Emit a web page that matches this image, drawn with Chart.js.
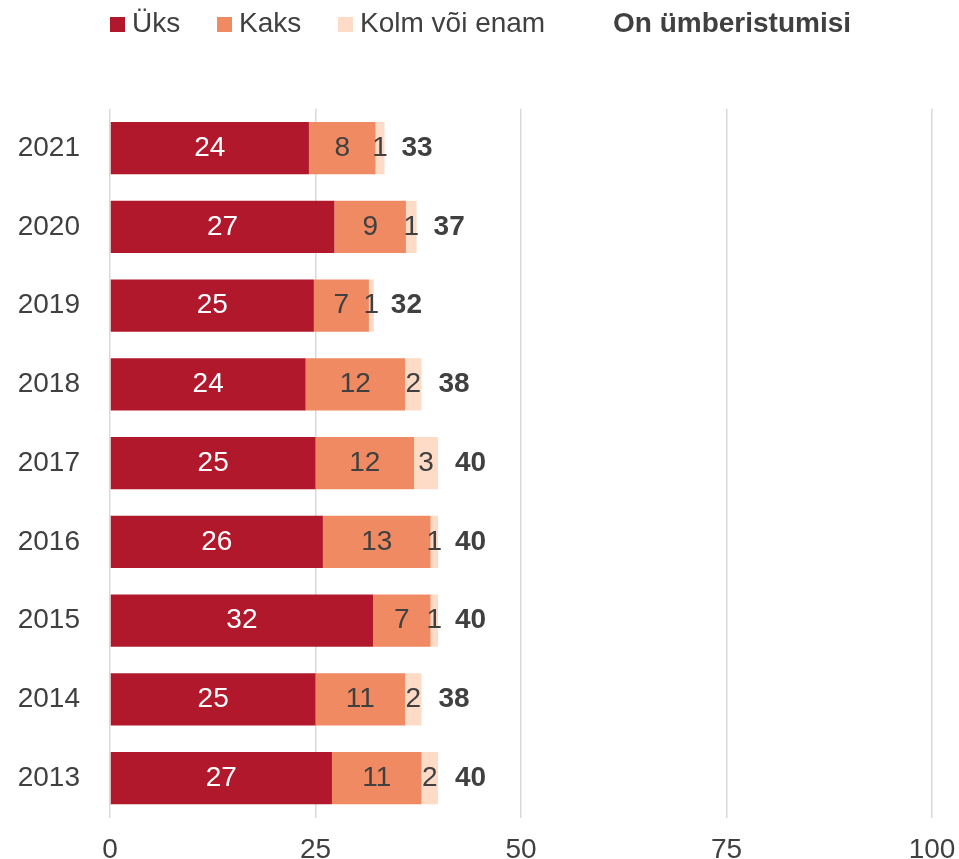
<!DOCTYPE html>
<html>
<head>
<meta charset="utf-8">
<script src="https://cdn.jsdelivr.net/npm/chart.js@4.4.1/dist/chart.umd.min.js"></script>
<style>
  body { margin: 0; background: #fff; }
  #wrap { position: relative; width: 959px; height: 859px; }
  #chart { position: absolute; left: 0; top: 0; }
  #legend { position: absolute; left: 0; top: 7px; width: 959px; height: 40px;
            font: 28px "Liberation Sans", Arial, sans-serif; line-height: 32px; color: #404040; }
  #legend span { position: absolute; top: 0; white-space: nowrap; }
  #legend i { display: inline-block; width: 15px; height: 15px; margin-right: 7px; }
</style>
</head>
<body>
<div id="wrap">
  <canvas id="chart" width="959" height="859"></canvas>
  <div id="legend"></div>
</div>
<script>
// data (top to bottom)
const years = ['2021', '2020', '2019', '2018', '2017', '2016', '2015', '2014', '2013'];
const uks = [24.2, 27.3, 24.8, 23.8, 25.0, 25.9, 32.0, 25.0, 27.0];
const kaks = [8.1, 8.7, 6.7, 12.1, 12.0, 13.1, 7.0, 10.9, 10.9];
const kolm = [1.1, 1.3, 0.6, 2.0, 2.9, 0.9, 0.9, 2.0, 2.0];
const totals = [33, 37, 32, 38, 40, 40, 40, 38, 40];
const seriesNames = ['Üks', 'Kaks', 'Kolm või enam'];
const totalName = 'On ümberistumisi';
const xTicks = [0, 25, 50, 75, 100];

const colors = ['#B2182B', '#EF8A62', '#FDDBC7'];
const textColor = '#404040';
const FONT = '28px "Liberation Sans", Arial, sans-serif';
const legendX = [110, 217, 338, 613];

// legend
const legend = document.getElementById('legend');
let html = '';
seriesNames.forEach((n, i) => {
    html += `<span style="left:${legendX[i]}px"><i style="background:${colors[i]}"></i>${n}</span>`;
});
html += `<span style="left:${legendX[3]}px;font-weight:bold">${totalName}</span>`;
legend.innerHTML = html;

const barLabels = {
    id: 'barLabels',
    afterDatasetsDraw(chart) {
        const ctx = chart.ctx;
        ctx.save();
        ctx.font = FONT;
        ctx.textAlign = 'center';
        ctx.textBaseline = 'middle';
        chart.data.datasets.forEach((ds, i) => {
            chart.getDatasetMeta(i).data.forEach((bar, j) => {
                ctx.fillStyle = i === 0 ? '#ffffff' : textColor;
                ctx.fillText(Math.round(ds.data[j]), (bar.x + bar.base) / 2, bar.y);
            });
        });
        // totals after the bar end
        ctx.font = 'bold ' + FONT;
        ctx.textAlign = 'left';
        ctx.fillStyle = textColor;
        const xs = chart.scales.x;
        const bars = chart.getDatasetMeta(0).data;
        years.forEach((y, j) => {
            const end = uks[j] + kaks[j] + kolm[j];
            ctx.fillText(totals[j], xs.getPixelForValue(end) + 17, bars[j].y);
        });
        ctx.restore();
    }
};

const ds = (label, data, color) => ({
    label: label,
    data: data,
    backgroundColor: color,
    borderWidth: 0,
    barPercentage: 0.664,
    categoryPercentage: 1
});

new Chart(document.getElementById('chart').getContext('2d'), {
    type: 'bar',
    data: {
        labels: years,
        datasets: [
            ds(seriesNames[0], uks, colors[0]),
            ds(seriesNames[1], kaks, colors[1]),
            ds(seriesNames[2], kolm, colors[2])
        ]
    },
    options: {
        indexAxis: 'y',
        responsive: false,
        animation: false,
        layout: { padding: { top: 108.8, right: 27, bottom: 0, left: 0 } },
        plugins: { legend: { display: false }, tooltip: { enabled: false } },
        scales: {
            x: {
                stacked: true,
                min: 0,
                max: 100,
                afterBuildTicks: (s) => { s.ticks = xTicks.map(v => ({ value: v })); },
                ticks: { font: { family: '"Liberation Sans", Arial, sans-serif', size: 28 }, color: textColor, padding: 16, maxRotation: 0 },
                grid: { color: '#d9d9d9', lineWidth: 1.5, drawTicks: false },
                border: { display: false },
                afterFit: (s) => { s.height = 41.4; s.paddingLeft = 0; s.paddingRight = 0; }
            },
            y: {
                stacked: true,
                grid: { display: false, drawTicks: false },
                border: { display: false },
                ticks: { font: { family: '"Liberation Sans", Arial, sans-serif', size: 28 }, color: textColor, padding: 30 },
                afterFit: (s) => { s.width = 110; s.paddingTop = 0; s.paddingBottom = 0; }
            }
        }
    },
    plugins: [barLabels]
});
</script>
</body>
</html>
